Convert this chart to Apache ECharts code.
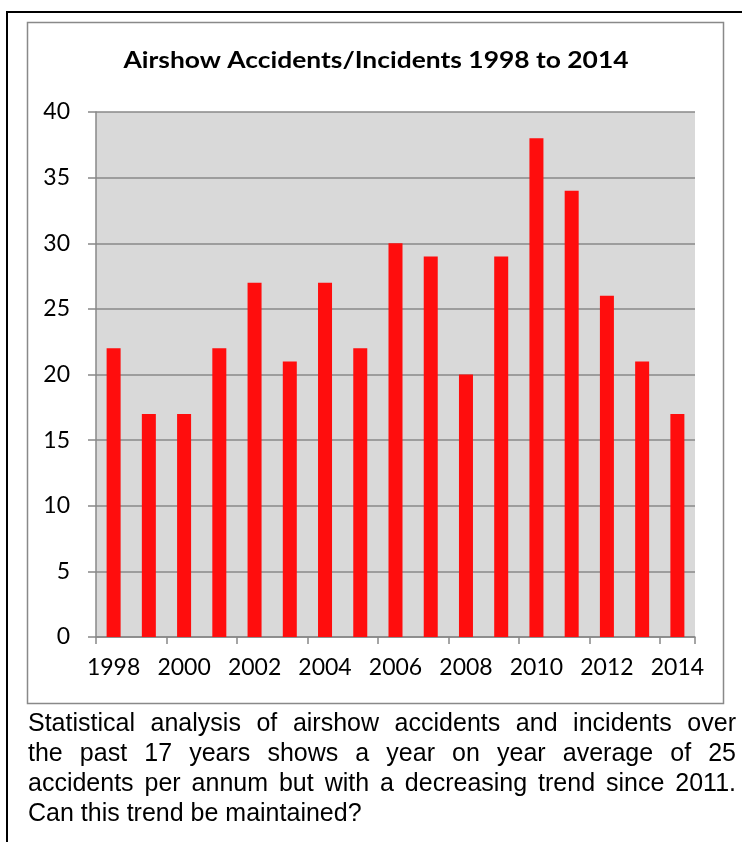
<!DOCTYPE html>
<html>
<head>
<meta charset="utf-8">
<script src="https://cdn.jsdelivr.net/npm/echarts@6/dist/echarts.min.js"></script>
<style>
  html, body { margin: 0; padding: 0; background: #fff; }
  #wrap { position: relative; width: 742px; height: 842px; overflow: hidden; }
  #chart { position: absolute; left: 0; top: 0; width: 742px; height: 842px; }
  #para { position: absolute; left: 28px; top: 707px; width: 708px;
          font-family: "Liberation Sans", Arial, sans-serif; font-size: 25px; line-height: 30px; color: #000; }
  #para div { white-space: nowrap; }
  #para .j { text-align: justify; text-align-last: justify; }
</style>
</head>
<body>
<div id="wrap">
  <div id="chart"></div>
  <div id="para">
    <div class="j">Statistical analysis of airshow accidents and incidents over</div>
    <div class="j">the past 17 years shows a year on year average of 25</div>
    <div class="j">accidents per annum but with a decreasing trend since 2011.</div>
    <div>Can this trend be maintained?</div>
  </div>
</div>
<script>
const titleText = 'Airshow Accidents/Incidents 1998 to 2014';
const years = ['1998','1999','2000','2001','2002','2003','2004','2005','2006','2007','2008','2009','2010','2011','2012','2013','2014'];
const accidents = [22, 17, 17, 22, 27, 21, 27, 22, 30, 29, 20, 29, 38, 34, 26, 21, 17];
const yTicks = { min: 0, max: 40, interval: 5 };

const chart = echarts.init(document.getElementById('chart'), null, { renderer: 'canvas' });
const font = 'Lato, "Open Sans", sans-serif';
chart.setOption({
  animation: false,
  backgroundColor: '#fff',
  graphic: [
    { type: 'rect', z: -10, shape: { x: 7, y: 12, width: 760, height: 860 }, style: { fill: 'none', stroke: '#000', lineWidth: 2 } },
    { type: 'rect', z: -9, shape: { x: 27.5, y: 22.5, width: 696, height: 681 }, style: { fill: '#fff', stroke: '#898989', lineWidth: 1.5 } },
    { type: 'text', x: 376, y: 61, scaleX: 1.2, style: { text: titleText, font: 'bold 22px ' + font, fill: '#000', align: 'center', verticalAlign: 'middle' } }
  ],
  grid: { left: 96, top: 112, width: 599, height: 525, show: true, backgroundColor: '#D9D9D9', borderWidth: 0 },
  xAxis: {
    type: 'category', data: years, boundaryGap: true,
    axisLine: { lineStyle: { color: '#888', width: 1.5 } },
    axisTick: { show: true, interval: 1, length: 7, lineStyle: { color: '#888', width: 1.5 } },
    axisLabel: { interval: 1, margin: 19, color: '#000', fontFamily: font, fontSize: 23 }
  },
  yAxis: {
    type: 'value', min: yTicks.min, max: yTicks.max, interval: yTicks.interval,
    axisLine: { show: true, lineStyle: { color: '#888', width: 1.5 } },
    axisTick: { show: true, length: 8, lineStyle: { color: '#888', width: 1.5 } },
    axisLabel: { margin: 26, color: '#000', fontFamily: font, fontSize: 23 },
    splitLine: { show: true, lineStyle: { color: '#888', width: 1.5 } }
  },
  series: [{
    type: 'bar', data: accidents, barWidth: 14,
    itemStyle: { color: '#FF0D0D' }
  }]
});
</script>
</body>
</html>
